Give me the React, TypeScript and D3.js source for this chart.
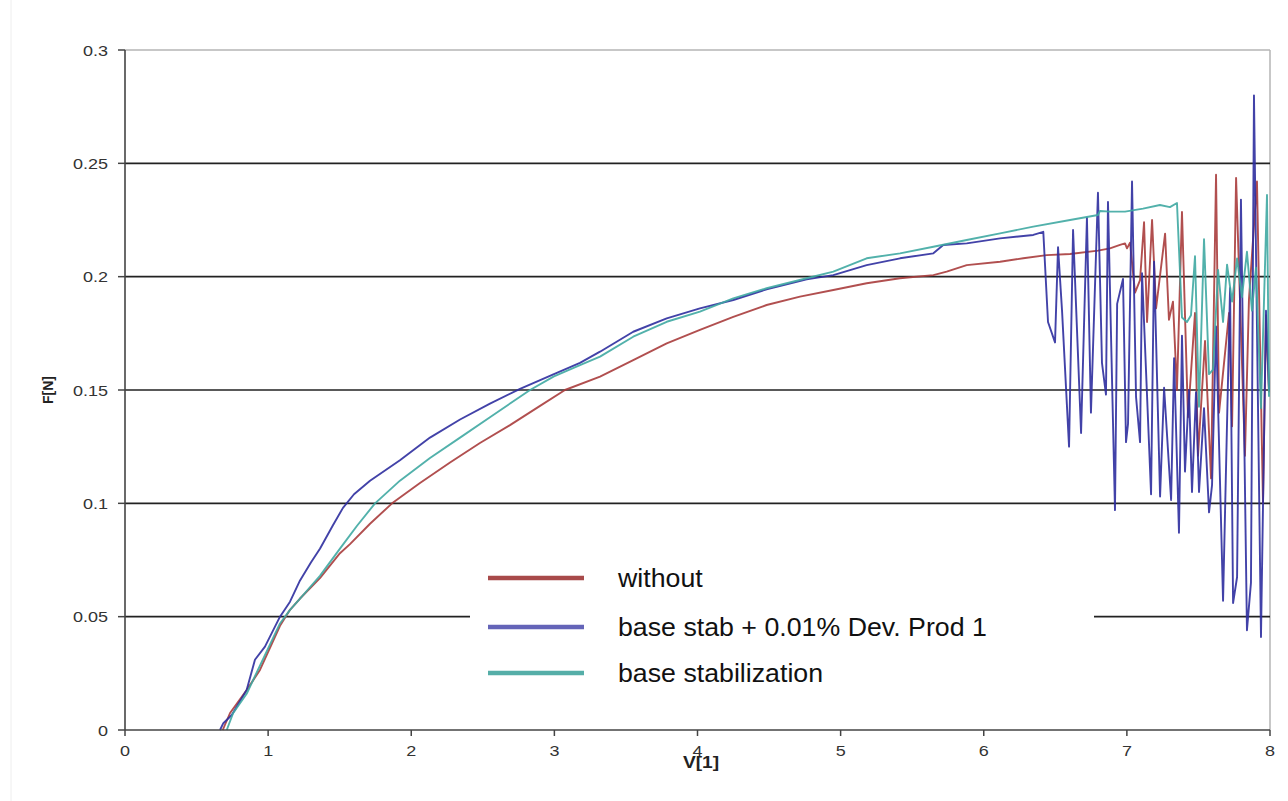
import React from "react";
import * as d3 from "d3";

// series names + colours (legend order)
const seriesNames = ["without", "base stab + 0.01% Dev. Prod 1", "base stabilization"];
const lineColors = ["#a83c3c", "#2e2e9e", "#3fa9a2"];
const legendColors = ["#a84a4a", "#6464b8", "#55aea8"];

const xTicks = [0, 1, 2, 3, 4, 5, 6, 7, 8];
const yTicks = [0, 0.05, 0.1, 0.15, 0.2, 0.25, 0.3];
const gridValues = [0.05, 0.1, 0.15, 0.2, 0.25];

// [V, F]
const withoutData: [number, number][] = [
  [0.683, 0], [0.734, 0.0075], [0.85, 0.0176], [0.943, 0.0265], [1.083, 0.046], [1.153, 0.053],
  [1.223, 0.058], [1.362, 0.067], [1.502, 0.078], [1.572, 0.082], [1.712, 0.091], [1.866, 0.1],
  [2.061, 0.109], [2.271, 0.118], [2.48, 0.1266], [2.69, 0.1345], [2.9, 0.143], [3.074, 0.15],
  [3.319, 0.1559], [3.551, 0.1632], [3.785, 0.1706], [4.017, 0.1765], [4.25, 0.1823],
  [4.483, 0.1875], [4.716, 0.1912], [4.949, 0.1941], [5.182, 0.1971], [5.415, 0.1993],
  [5.648, 0.2007], [5.741, 0.2022], [5.881, 0.2051], [6.114, 0.2066], [6.276, 0.2081],
  [6.44, 0.2095], [6.603, 0.21], [6.798, 0.2115], [6.882, 0.2125], [6.952, 0.214],
  [6.987, 0.2147], [7.001, 0.2125], [7.022, 0.215], [7.057, 0.193], [7.092, 0.1985],
  [7.12, 0.224], [7.141, 0.18], [7.176, 0.225], [7.204, 0.186], [7.267, 0.219], [7.294, 0.181],
  [7.322, 0.189], [7.35, 0.15], [7.385, 0.2285], [7.427, 0.138], [7.476, 0.184], [7.497, 0.121],
  [7.546, 0.1716], [7.588, 0.111], [7.623, 0.245], [7.644, 0.14], [7.714, 0.184], [7.735, 0.134],
  [7.763, 0.2436], [7.825, 0.121], [7.853, 0.19], [7.909, 0.242], [7.951, 0.1], [7.972, 0.183],
  [7.993, 0.149],
];

const stabDevData: [number, number][] = [
  [0.664, 0], [0.687, 0.003], [0.746, 0.0066], [0.85, 0.0176], [0.908, 0.031], [0.978, 0.0368],
  [1.083, 0.05], [1.153, 0.0566], [1.223, 0.066], [1.3, 0.074], [1.362, 0.08], [1.45, 0.09],
  [1.523, 0.098], [1.6, 0.104], [1.712, 0.11], [1.921, 0.119], [2.131, 0.129], [2.341, 0.137],
  [2.55, 0.144], [2.76, 0.1505], [2.997, 0.157], [3.179, 0.162], [3.319, 0.1669], [3.551, 0.1757],
  [3.785, 0.1816], [4.017, 0.186], [4.25, 0.1897], [4.483, 0.1944], [4.763, 0.1988],
  [4.949, 0.2007], [5.182, 0.2051], [5.415, 0.2081], [5.648, 0.2103], [5.717, 0.214],
  [5.881, 0.2147], [6.114, 0.2169], [6.346, 0.2184], [6.416, 0.2198], [6.449, 0.18],
  [6.498, 0.171], [6.519, 0.213], [6.547, 0.185], [6.596, 0.125], [6.624, 0.2206], [6.68, 0.131],
  [6.721, 0.226], [6.749, 0.14], [6.798, 0.237], [6.826, 0.162], [6.854, 0.148], [6.868, 0.233],
  [6.917, 0.097], [6.932, 0.188], [6.973, 0.199], [6.994, 0.127], [7.008, 0.135], [7.036, 0.242],
  [7.064, 0.147], [7.092, 0.127], [7.106, 0.2015], [7.169, 0.104], [7.19, 0.2066], [7.232, 0.103],
  [7.26, 0.151], [7.309, 0.1015], [7.33, 0.164], [7.364, 0.087], [7.385, 0.174], [7.406, 0.114],
  [7.434, 0.15], [7.455, 0.105], [7.483, 0.149], [7.504, 0.105], [7.539, 0.142], [7.574, 0.096],
  [7.595, 0.108], [7.623, 0.178], [7.672, 0.057], [7.721, 0.195], [7.742, 0.056], [7.77, 0.0675],
  [7.797, 0.234], [7.839, 0.044], [7.867, 0.065], [7.888, 0.28], [7.937, 0.041], [7.972, 0.185],
  [7.993, 0.15],
];

const stabData: [number, number][] = [
  [0.711, 0], [0.755, 0.0074], [0.85, 0.016], [1.083, 0.047], [1.153, 0.053], [1.223, 0.058],
  [1.362, 0.068], [1.502, 0.08], [1.62, 0.09], [1.747, 0.1], [1.921, 0.11], [2.131, 0.12],
  [2.341, 0.129], [2.55, 0.138], [2.83, 0.15], [2.997, 0.156], [3.179, 0.161], [3.319, 0.1647],
  [3.551, 0.1735], [3.785, 0.1801], [4.017, 0.1846], [4.25, 0.1904], [4.483, 0.1949],
  [4.763, 0.1993], [4.949, 0.2022], [5.182, 0.2081], [5.415, 0.2103], [5.648, 0.2132],
  [5.881, 0.2162], [6.114, 0.2191], [6.346, 0.2221], [6.603, 0.225], [6.798, 0.2272],
  [6.812, 0.229], [6.882, 0.2287], [6.987, 0.2287], [7.113, 0.23], [7.231, 0.2316],
  [7.301, 0.2307], [7.35, 0.2325], [7.385, 0.182], [7.42, 0.18], [7.448, 0.183], [7.476, 0.209],
  [7.504, 0.1426], [7.539, 0.2165], [7.574, 0.157], [7.602, 0.159], [7.637, 0.203], [7.672, 0.18],
  [7.7, 0.2053], [7.735, 0.189], [7.77, 0.208], [7.804, 0.191], [7.839, 0.211], [7.874, 0.185],
  [7.902, 0.204], [7.937, 0.142], [7.979, 0.236], [7.993, 0.147],
];

const allSeries = [withoutData, stabDevData, stabData];

export default function App() {
  const W = 1288;
  const H = 801;
  const x = d3.scaleLinear().domain([0, 8]).range([125, 1270]);
  const y = d3.scaleLinear().domain([0, 0.3]).range([730, 50]);
  const line = d3.line<[number, number]>().x(d => x(d[0])).y(d => y(d[1]));
  const font = "'Liberation Sans', Arial, sans-serif";
  // the source picture is stretched sideways, so text is widened a bit
  const sx = 1.2;

  const legX0 = 470, legX1 = 1094;
  const legRows = [578, 627, 673];

  return (
    <svg width={W} height={H} style={{ position: "absolute", left: 0, top: 0, background: "#fff" }}>
      <line x1={11} x2={11} y1={0} y2={H} stroke="#eeeeee" strokeWidth={1} />

      {/* plot frame (top/right) */}
      <line x1={x(0)} x2={x(8)} y1={y(0.3)} y2={y(0.3)} stroke="#b4b4b4" strokeWidth={1.5} />
      <line x1={x(8)} x2={x(8)} y1={y(0.3)} y2={y(0)} stroke="#b4b4b4" strokeWidth={1.5} />

      {/* gridlines */}
      {gridValues.map(v => (
        <line key={v} x1={x(0)} x2={x(8)} y1={y(v)} y2={y(v)} stroke="#222" strokeWidth={1.7} />
      ))}

      {/* series */}
      {allSeries.map((s, i) => (
        <path key={i} d={line(s) || ""} fill="none" stroke={lineColors[i]} strokeWidth={1.9}
          strokeOpacity={0.9} strokeLinejoin="round" />
      ))}

      {/* legend */}
      <rect x={legX0} y={548} width={legX1 - legX0} height={150} fill="#fff" />
      {seriesNames.map((n, i) => (
        <g key={n}>
          <line x1={488} x2={584} y1={legRows[i]} y2={legRows[i]} stroke={legendColors[i]} strokeWidth={4.5} />
          <text transform={`translate(618,${legRows[i] + 9}) scale(1.07,1)`} fontFamily={font} fontSize={25} fill="#111">{n}</text>
        </g>
      ))}

      {/* axes */}
      <line x1={x(0)} x2={x(0)} y1={y(0.3)} y2={y(0)} stroke="#444" strokeWidth={1.6} />
      <line x1={x(0)} x2={x(8)} y1={y(0)} y2={y(0)} stroke="#444" strokeWidth={1.6} />
      {yTicks.map(t => (
        <g key={t}>
          <line x1={x(0) - 7} x2={x(0)} y1={y(t)} y2={y(t)} stroke="#444" strokeWidth={1.5} />
          <text transform={`translate(108,${y(t) + 5.5}) scale(${sx},1)`} textAnchor="end" fontFamily={font}
            fontSize={15} fill="#333">
            {d3.format("~g")(t)}
          </text>
        </g>
      ))}
      {xTicks.map(t => (
        <g key={t}>
          <line x1={x(t)} x2={x(t)} y1={y(0)} y2={y(0) + 6} stroke="#444" strokeWidth={1.5} />
          <text transform={`translate(${x(t)},756) scale(${sx},1)`} textAnchor="middle" fontFamily={font}
            fontSize={15} fill="#333">{t}</text>
        </g>
      ))}
      <text transform={`translate(701,768) scale(${sx},1)`} textAnchor="middle" fontFamily={font} fontSize={16}
        fontWeight="bold" fill="#222">V[1]</text>
      <text transform={`translate(53,390) rotate(-90)`} textAnchor="middle" fontFamily={font} fontSize={14}
        fontWeight="bold" fill="#222">F[N]</text>
    </svg>
  );
}
